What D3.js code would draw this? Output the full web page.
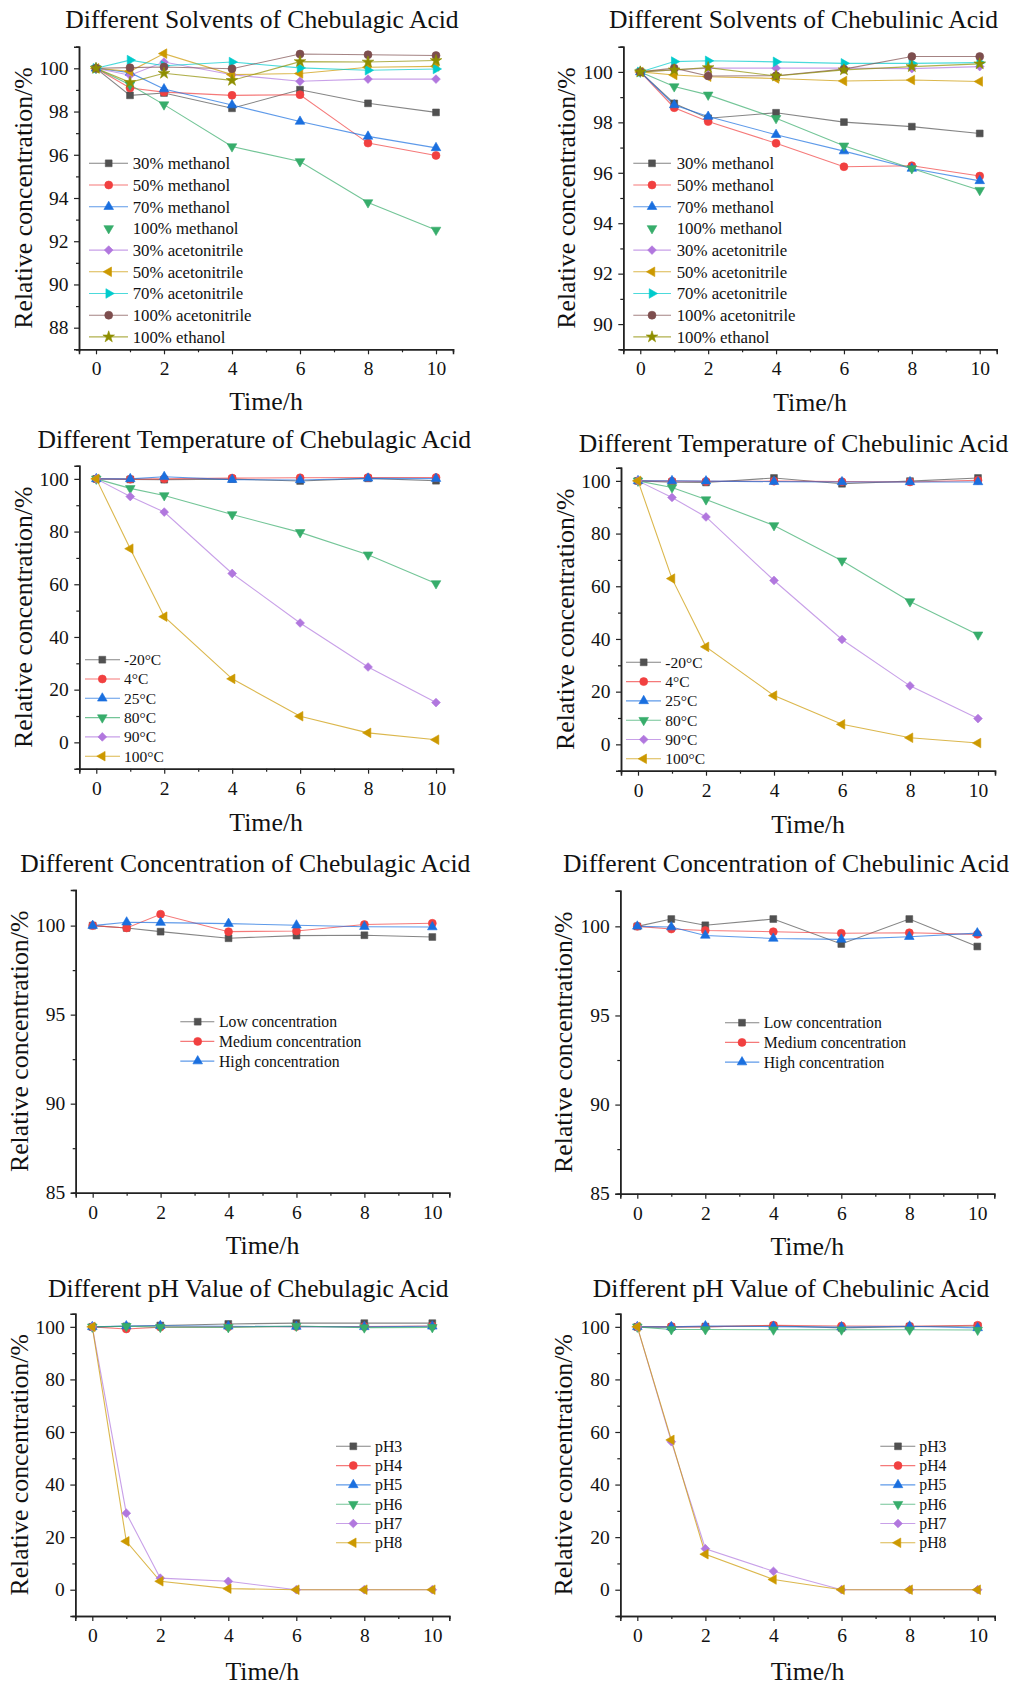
<!DOCTYPE html>
<html>
<head>
<meta charset="utf-8">
<script src="https://cdn.jsdelivr.net/npm/d3@7"></script>
<style>
  html, body { margin: 0; padding: 0; background: #fff; }
  svg { display: block; }
  text { font-family: "Liberation Serif", "Times New Roman", serif; fill: #111; }
</style>
</head>
<body>
<svg id="chart" width="1012" height="1686"></svg>
<script>
// ---------------- DATA ----------------
const hours = [0, 1, 2, 4, 6, 8, 10];
const xMajorTicks = [0, 2, 4, 6, 8, 10];
const xMinorTicks = [1, 3, 5, 7, 9];

const solventNames = ["30% methanol", "50% methanol", "70% methanol", "100% methanol",
  "30% acetonitrile", "50% acetonitrile", "70% acetonitrile", "100% acetonitrile", "100% ethanol"];
const temperatureNames = ["-20°C", "4°C", "25°C", "80°C", "90°C", "100°C"];
const concentrationNames = ["Low concentration", "Medium concentration", "High concentration"];
const phNames = ["pH3", "pH4", "pH5", "pH6", "pH7", "pH8"];

const titles = [
  "Different Solvents of Chebulagic Acid", "Different Solvents of Chebulinic Acid",
  "Different Temperature of Chebulagic Acid", "Different Temperature of Chebulinic Acid",
  "Different Concentration of Chebulagic Acid", "Different Concentration of Chebulinic Acid",
  "Different pH Value of Chebulagic Acid", "Different pH Value of Chebulinic Acid"
];
const xAxisTitle = "Time/h";
const yAxisTitle = "Relative concentration/%";

const agicSolvents = [
  [100, 98.75, 98.86, 98.15, 99.01, 98.38, 97.96],
  [100, 99.09, 98.90, 98.75, 98.78, 96.54, 95.97],
  [100, 99.80, 99.04, 98.30, 97.54, 96.85, 96.32],
  [100, 99.24, 98.32, 96.38, 95.69, 93.79, 92.52],
  [100, 99.68, 100.29, 99.70, 99.40, 99.50, 99.50],
  [100, 99.86, 100.68, 99.71, 99.76, 100.05, 100.09],
  [100, 100.38, 100.12, 100.29, 100.02, 99.91, 99.97],
  [100, 100.03, 100.06, 99.98, 100.66, 100.63, 100.59],
  [100, 99.35, 99.77, 99.44, 100.31, 100.29, 100.36]
];
const linicSolvents = [
  [100, 98.75, 98.16, 98.38, 98.01, 97.83, 97.56],
  [100, 98.58, 98.03, 97.17, 96.24, 96.28, 95.87],
  [100, 98.69, 98.23, 97.51, 96.86, 96.17, 95.68],
  [100, 99.42, 99.09, 98.16, 97.07, 96.17, 95.31],
  [100, 100.08, 100.15, 100.15, 100.15, 100.13, 100.21],
  [100, 99.88, 99.81, 99.74, 99.64, 99.68, 99.62],
  [100, 100.41, 100.44, 100.40, 100.34, 100.34, 100.37],
  [100, 100.15, 99.84, 99.85, 100.11, 100.61, 100.61],
  [100, 100.08, 100.17, 99.84, 100.08, 100.21, 100.32]
];
const agicTemperature = [
  [100, 99.8, 99.7, 99.9, 99.2, 100.2, 99.3],
  [100, 99.9, 100.0, 100.3, 100.4, 100.5, 100.5],
  [100, 100.0, 100.8, 99.7, 99.6, 100.2, 100.1],
  [100, 96.4, 93.7, 86.5, 79.7, 71.2, 60.3],
  [100, 93.3, 87.4, 64.1, 45.3, 28.6, 15.1],
  [100, 73.5, 47.7, 24.1, 9.9, 3.6, 1.0]
];
const linicTemperature = [
  [100, 99.5, 99.4, 101.1, 98.9, 99.9, 101.1],
  [100, 99.9, 99.8, 99.9, 99.7, 99.6, 100.2],
  [100, 100.0, 99.9, 99.7, 99.6, 99.6, 99.6],
  [100, 97.5, 92.9, 83.1, 69.7, 54.2, 41.6],
  [100, 93.7, 86.3, 62.2, 39.8, 22.2, 9.8],
  [100, 62.9, 37.0, 18.5, 7.6, 2.5, 0.5]
];
const agicConcentration = [
  [100, 99.87, 99.66, 99.29, 99.44, 99.46, 99.36],
  [100, 99.87, 100.64, 99.66, 99.70, 100.06, 100.13],
  [100, 100.19, 100.17, 100.11, 100.02, 99.94, 99.92]
];
const linicConcentration = [
  [100, 100.41, 100.06, 100.41, 99.01, 100.41, 98.87],
  [100, 99.85, 99.77, 99.70, 99.61, 99.64, 99.55],
  [100, 99.96, 99.49, 99.32, 99.27, 99.42, 99.62]
];
const agicPH = [
  [100, 100.2, 100.5, 101.1, 101.4, 101.4, 101.4],
  [100, 99.2, 99.9, 100.0, 100.1, 100.1, 100.3],
  [100, 100.3, 100.4, 100.2, 100.1, 100.0, 100.2],
  [100, 100.2, 99.9, 99.8, 100.3, 99.7, 99.8],
  [100, 29.1, 4.4, 3.2, 0, 0, 0],
  [100, 18.4, 3.2, 0.4, 0, 0, 0]
];
const linicPH = [
  [100, 99.9, 100.1, 100.4, 99.6, 100.1, 100.3],
  [100, 100.1, 100.0, 100.6, 100.3, 100.2, 100.6],
  [100, 100.0, 100.3, 100.1, 99.9, 100.2, 99.6],
  [100, 99.0, 99.0, 98.9, 98.9, 98.9, 98.8],
  [100, 56.3, 15.6, 7.0, 0, 0, 0],
  [100, 57.0, 13.5, 3.9, 0, 0, 0]
];

const solventTicksAgic = [88, 90, 92, 94, 96, 98, 100];
const solventMinorAgic = [87, 89, 91, 93, 95, 97, 99, 101];
const solventTicksLinic = [90, 92, 94, 96, 98, 100];
const solventMinorLinic = [89, 91, 93, 95, 97, 99, 101];
const percentTicks = [0, 20, 40, 60, 80, 100];
const percentMinor = [-10, 10, 30, 50, 70, 90];
const concTicks = [85, 90, 95, 100];
const concMinor = [87.5, 92.5, 97.5];

// ---------------- STYLE ----------------
const palette = ["#515151", "#F14040", "#1A6FDF", "#37AD6B", "#B177DE", "#CC9900", "#00CBCC", "#7D4E4E", "#8E8E00"];
const shapes = ["square", "circle", "up", "down", "diamond", "left", "right", "circle", "star"];

function symbolPath(kind) {
  const sz = { square: 46, circle: 50, up: 40, down: 40, diamond: 38, left: 40, right: 40, star: 42 }[kind];
  if (kind === "square") return { d: d3.symbol(d3.symbolSquare, sz)(), rot: 0 };
  if (kind === "circle") return { d: d3.symbol(d3.symbolCircle, sz)(), rot: 0 };
  if (kind === "diamond") return { d: d3.symbol(d3.symbolSquare, sz)(), rot: 45 };
  if (kind === "star") return { d: d3.symbol(d3.symbolStar, sz)(), rot: 0 };
  const rot = { up: 0, down: 180, left: -90, right: 90 }[kind];
  return { d: d3.symbol(d3.symbolTriangle, sz)(), rot };
}

// ---------------- LAYOUT ----------------
const layout = [
  { data: agicSolvents, names: solventNames, yDomain: [87, 101], yMajor: solventTicksAgic, yMinor: solventMinorAgic,
    box: [79, 453, 46.7, 349.3], title: [262, 28.3], xl: 410, yl: 32.3,
    legend: { y0: 163.3, dy: 21.7, x1: 89, x2: 128, xs: 108.7, xt: 132.7, fs: 16.8 } },
  { data: linicSolvents, names: solventNames, yDomain: [89, 101], yMajor: solventTicksLinic, yMinor: solventMinorLinic,
    box: [623.3, 996.7, 46.7, 349.3], title: [803.5, 28.3], xl: 410.7, yl: 575,
    legend: { y0: 163.3, dy: 21.7, x1: 633.3, x2: 671, xs: 652, xt: 676.7, fs: 16.8 } },
  { data: agicTemperature, names: temperatureNames, yDomain: [-10, 105], yMajor: percentTicks, yMinor: percentMinor,
    box: [79.3, 453, 465.7, 768.7], title: [254.3, 448.3], xl: 830.7, yl: 32.3,
    legend: { y0: 659.7, dy: 19.3, x1: 85, x2: 120, xs: 102.3, xt: 124, fs: 15.5 } },
  { data: linicTemperature, names: temperatureNames, yDomain: [-10, 105], yMajor: percentTicks, yMinor: percentMinor,
    box: [621, 995, 467.7, 770.7], title: [793.5, 451.7], xl: 833.3, yl: 574,
    legend: { y0: 662.3, dy: 19.3, x1: 626, x2: 661, xs: 643.7, xt: 665.3, fs: 15.5 } },
  { data: agicConcentration, names: concentrationNames, yDomain: [85, 102], yMajor: concTicks, yMinor: concMinor,
    box: [75.7, 449.3, 890, 1192.7], title: [245.3, 871.7], xl: 1254, yl: 28,
    legend: { y0: 1021.7, dy: 19.7, x1: 180.3, x2: 214.3, xs: 197.7, xt: 219, fs: 15.7 } },
  { data: linicConcentration, names: concentrationNames, yDomain: [85, 102], yMajor: concTicks, yMinor: concMinor,
    box: [620.3, 994.3, 890.7, 1193.7], title: [788, 872.3], xl: 1255, yl: 572,
    legend: { y0: 1022.7, dy: 19.7, x1: 725, x2: 759.3, xs: 742, xt: 763.7, fs: 15.7 } },
  { data: agicPH, names: phNames, yDomain: [-10, 105], yMajor: percentTicks, yMinor: percentMinor,
    box: [75.3, 449.3, 1313.7, 1616], title: [248.3, 1296.7], xl: 1680.3, yl: 28,
    legend: { y0: 1446.3, dy: 19.3, x1: 336, x2: 370.7, xs: 353.3, xt: 375, fs: 15.8 } },
  { data: linicPH, names: phNames, yDomain: [-10, 105], yMajor: percentTicks, yMinor: percentMinor,
    box: [620.3, 994.7, 1313.7, 1616], title: [791, 1296.7], xl: 1680, yl: 572,
    legend: { y0: 1446.3, dy: 19.3, x1: 880.3, x2: 915.3, xs: 898, xt: 919.3, fs: 15.8 } }
];

const noLegendLine = new Set(["100% methanol"]);
const svg = d3.select("#chart");
const svgWidth = 1012;

layout.forEach((p, pi) => {
  const [L, R, T, B] = p.box;
  const x = d3.scaleLinear().domain([-0.5, 10.5]).range([L, R]);
  const y = d3.scaleLinear().domain(p.yDomain).range([B, T]);
  const g = svg.append("g");

  // axes
  g.append("g").attr("transform", `translate(0,${B})`)
    .call(d3.axisBottom(x).tickValues(xMajorTicks).tickSize(5).tickPadding(7).tickFormat(d3.format("d")));
  g.append("g").attr("transform", `translate(0,${B})`)
    .call(d3.axisBottom(x).tickValues(xMinorTicks).tickSize(3).tickFormat(""));
  g.append("g").attr("transform", `translate(${L},0)`)
    .call(d3.axisLeft(y).tickValues(p.yMajor).tickSize(5).tickPadding(5.5).tickFormat(d3.format("d")));
  g.append("g").attr("transform", `translate(${L},0)`)
    .call(d3.axisLeft(y).tickValues(p.yMinor).tickSize(3).tickFormat(""));
  g.selectAll(".domain").attr("stroke", "#222").attr("stroke-width", 1.5);
  g.selectAll(".tick line").attr("stroke", "#222").attr("stroke-width", 1.2);
  g.selectAll(".tick text")
    .attr("font-family", '"Liberation Serif", serif')
    .attr("font-size", 19.5)
    .style("font-size", "19.5px")
    .attr("fill", "#111");

  // series lines and markers
  const line = d3.line().x((d, i) => x(hours[i])).y(d => y(d));
  p.data.forEach((vals, si) => {
    const col = palette[si];
    g.append("path").datum(vals).attr("d", line)
      .attr("fill", "none").attr("stroke", col).attr("stroke-width", 1.1).attr("stroke-opacity", 0.7);
  });
  p.data.forEach((vals, si) => {
    const col = palette[si];
    const sp = symbolPath(shapes[si]);
    g.selectAll(null).data(vals).enter().append("path")
      .attr("d", sp.d)
      .attr("transform", (d, i) => `translate(${x(hours[i])},${y(d)}) rotate(${sp.rot})`)
      .attr("fill", col).attr("stroke", col).attr("stroke-width", 0.6);
  });

  // titles
  const tt = g.append("text").attr("x", p.title[0]).attr("y", p.title[1]).attr("text-anchor", "middle")
    .style("font-size", "25.6px").text(titles[pi]);
  const tw = tt.node().getComputedTextLength();
  if (p.title[0] + tw / 2 > svgWidth - 3) tt.attr("x", svgWidth - 3 - tw / 2);
  g.append("text").attr("x", (L + R) / 2).attr("y", p.xl).attr("text-anchor", "middle")
    .style("font-size", "25.8px").text(xAxisTitle);
  g.append("text").attr("transform", `translate(${p.yl},${(T + B) / 2}) rotate(-90)`).attr("text-anchor", "middle")
    .style("font-size", "25.8px").text(yAxisTitle);

  // legend
  const lg = p.legend;
  p.names.forEach((nm, si) => {
    const cy = lg.y0 + si * lg.dy;
    const col = palette[si];
    if (!noLegendLine.has(nm)) {
      g.append("line").attr("x1", lg.x1).attr("x2", lg.x2).attr("y1", cy).attr("y2", cy)
        .attr("stroke", col).attr("stroke-width", 1.1).attr("stroke-opacity", 0.7);
    }
    const sp = symbolPath(shapes[si]);
    g.append("path").attr("d", sp.d).attr("transform", `translate(${lg.xs},${cy}) rotate(${sp.rot})`)
      .attr("fill", col).attr("stroke", col).attr("stroke-width", 0.6);
    g.append("text").attr("x", lg.xt).attr("y", cy).attr("dy", "0.35em")
      .style("font-size", lg.fs + "px").text(nm);
  });
});
</script>
</body>
</html>
